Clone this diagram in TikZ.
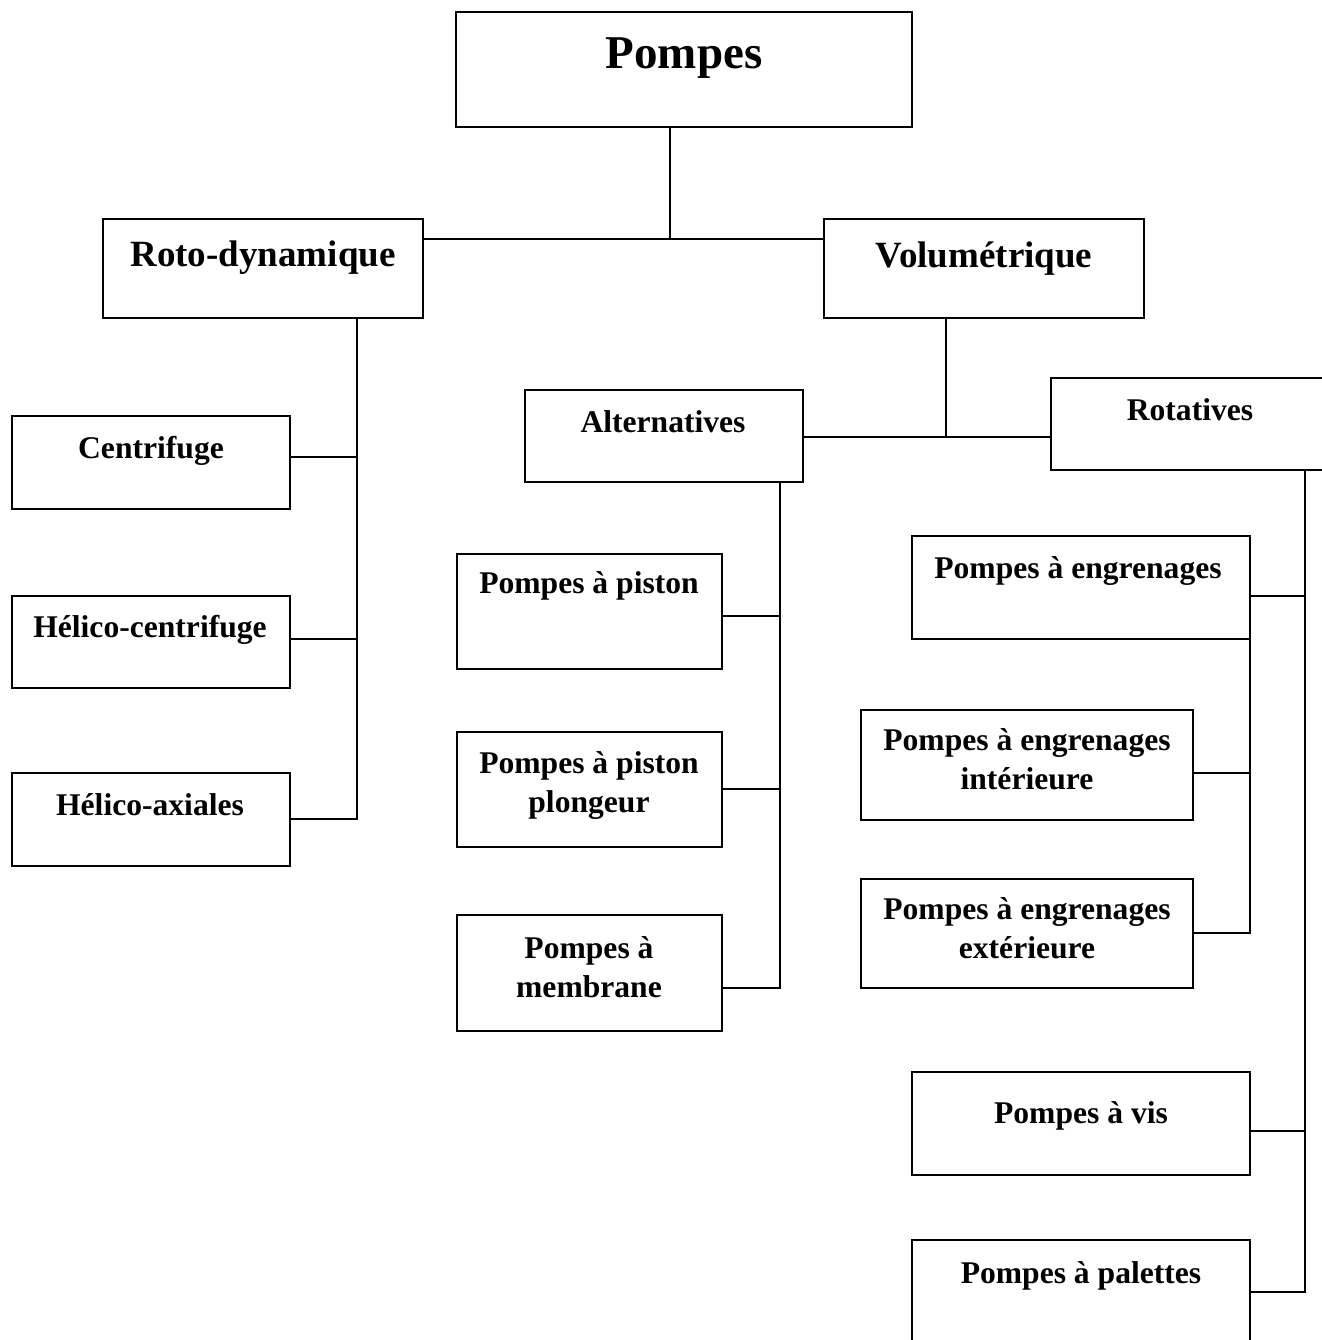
\documentclass[tikz,border=0pt]{standalone}
\usepackage{fontspec}
\setmainfont{Liberation Serif}
\usetikzlibrary{fit}

\tikzset{
  box/.style={draw=black, line width=1.5pt, inner sep=0pt, rectangle},
  link/.style={draw=black, line width=1.5pt, line cap=rect},
  ttl/.style={font=\bfseries\fontsize{35.25}{42}\selectfont, anchor=base, inner sep=0pt},
  mid/.style={font=\bfseries\fontsize{27.75}{33}\selectfont, anchor=base, inner sep=0pt},
  sml/.style={font=\bfseries\fontsize{23.7}{29.25}\selectfont, anchor=base, inner sep=0pt, align=center},
}

\begin{document}
\begin{tikzpicture}[x=0.75pt, y=-0.75pt]
  \useasboundingbox (0,0) rectangle (1322,1340);
  \fill[white] (0,0) rectangle (1322,1340);
  \clip (0,0) rectangle (1322,1340);

  % boxes
  \node[box, fit={(456,12) (912,127)}] (pompes) {};
  \node[box, fit={(103,219) (423,318)}] (roto) {};
  \node[box, fit={(824,219) (1144,318)}] (volu) {};
  \node[box, fit={(525,390) (803,482)}] (alt) {};
  \node[box, fit={(1051,378) (1329,470)}] (rot) {};
  \node[box, fit={(12,416) (290,509)}] (centri) {};
  \node[box, fit={(12,596) (290,688)}] (helc) {};
  \node[box, fit={(12,773) (290,866)}] (helax) {};
  \node[box, fit={(457,554) (722,669)}] (piston) {};
  \node[box, fit={(457,732) (722,847)}] (plong) {};
  \node[box, fit={(457,915) (722,1031)}] (membr) {};
  \node[box, fit={(912,536) (1250,639)}] (engr) {};
  \node[box, fit={(861,710) (1193,820)}] (inter) {};
  \node[box, fit={(861,879) (1193,988)}] (exter) {};
  \node[box, fit={(912,1072) (1250,1175)}] (vis) {};
  \node[box, fit={(912,1240) (1250,1343)}] (palet) {};

  % labels (two-line labels sit on the baseline of their last line)
  \node[ttl] (t-pompes) at (684,68) {Pompes};
  \node[mid] (t-roto) at (263,266) {Roto-dynamique};
  \node[mid] (t-volu) at (984,267) {Volumétrique};
  \node[sml] (t-alt) at (663,432) {Alternatives};
  \node[sml] (t-rot) at (1190,420) {Rotatives};
  \node[sml] (t-centri) at (151,458) {Centrifuge};
  \node[sml] (t-helc) at (150,637) {Hélico-centrifuge};
  \node[sml] (t-helax) at (150,815) {Hélico-axiales};
  \node[sml] (t-piston) at (589,593) {Pompes à piston};
  \node[sml] (t-plong) at (589,812) {Pompes à piston\\plongeur};
  \node[sml] (t-membr) at (589,997) {Pompes à\\membrane};
  \node[sml] (t-engr) at (1078,578) {Pompes à engrenages};
  \node[sml] (t-inter) at (1027,789) {Pompes à engrenages\\intérieure};
  \node[sml] (t-exter) at (1027,958) {Pompes à engrenages\\extérieure};
  \node[sml] (t-vis) at (1081,1123) {Pompes à vis};
  \node[sml] (t-palet) at (1081,1283) {Pompes à palettes};

  % junction points
  \coordinate (j0) at (670,239);
  \coordinate (r1) at (357,457);
  \coordinate (r2) at (357,639);
  \coordinate (r3) at (357,819);
  \coordinate (v0) at (946,437);
  \coordinate (a1) at (780,616);
  \coordinate (a2) at (780,789);
  \coordinate (a3) at (780,988);
  \coordinate (t1) at (1305,596);
  \coordinate (t2) at (1305,1131);
  \coordinate (t3) at (1305,1292);
  \coordinate (e1) at (1250,773);
  \coordinate (e2) at (1250,933);

  % top level
  \draw[link] (pompes.south -| j0) -- (j0);
  \draw[link] (j0 -| roto.east) -- (j0 -| volu.west);

  % roto-dynamique branch
  \draw[link] (roto.south -| r1) -- (r3);
  \draw[link] (r1) -- (r1 -| centri.east);
  \draw[link] (r2) -- (r2 -| helc.east);
  \draw[link] (r3) -- (r3 -| helax.east);

  % volumetrique branch
  \draw[link] (volu.south -| v0) -- (v0);
  \draw[link] (v0 -| alt.east) -- (v0 -| rot.west);

  % alternatives
  \draw[link] (alt.south -| a1) -- (a3);
  \draw[link] (a1) -- (a1 -| piston.east);
  \draw[link] (a2) -- (a2 -| plong.east);
  \draw[link] (a3) -- (a3 -| membr.east);

  % rotatives
  \draw[link] (rot.south -| t1) -- (t3);
  \draw[link] (t1) -- (t1 -| engr.east);
  \draw[link] (t2) -- (t2 -| vis.east);
  \draw[link] (t3) -- (t3 -| palet.east);

  % gear pumps
  \draw[link] (engr.south -| e1) -- (e2);
  \draw[link] (e1) -- (e1 -| inter.east);
  \draw[link] (e2) -- (e2 -| exter.east);
\end{tikzpicture}
\end{document}
